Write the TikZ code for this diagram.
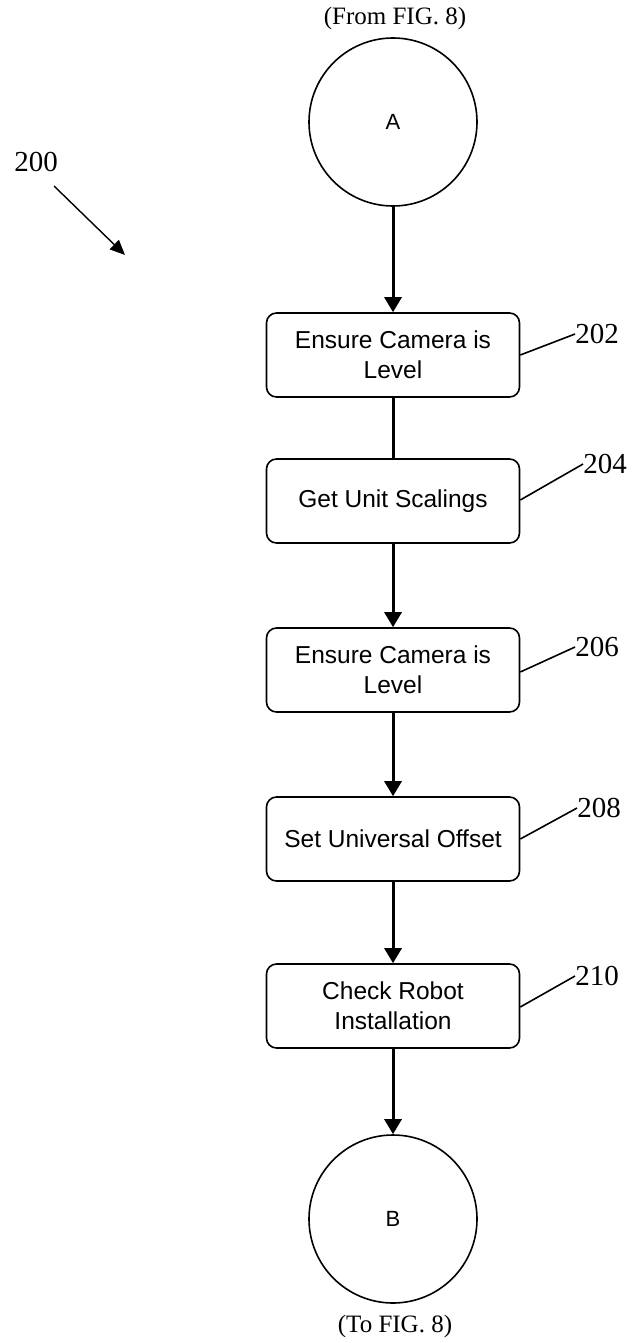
\documentclass[tikz,border=0pt]{standalone}
\usepackage{fontspec}
\setmainfont{Liberation Serif}
\newfontfamily\boxfont{Liberation Sans}
\usetikzlibrary{arrows.meta}
\tikzset{
  stepbox/.style={draw, line width=1.6pt, rounded corners=10pt, minimum width=253pt, minimum height=84pt, align=center, font=\boxfont\fontsize{24.5}{30}\selectfont, inner sep=2pt},
  conn/.style={draw, line width=3pt, -{Triangle[width=17pt,length=15pt]}},
  plain/.style={draw, line width=3pt},
  circ/.style={draw, circle, line width=1.6pt, minimum size=168pt, inner sep=0pt, font=\boxfont\fontsize{22}{26}\selectfont},
  lbl/.style={font=\fontsize{25}{28}\selectfont, inner sep=0pt},
  num/.style={font=\fontsize{29}{30}\selectfont, inner sep=0pt},
  leader/.style={draw, line width=1.6pt}
}
\begin{document}
\begin{tikzpicture}[x=1pt,y=-1pt]
\useasboundingbox (0,0) rectangle (632,1343);
\node[lbl] (from) at (395,18) {(From FIG. 8)};
\node[circ] (A) at (393,122) {A};
\node[stepbox] (s202) at (393,355) {Ensure Camera is\\Level};
\node[stepbox] (s204) at (393,501) {Get Unit Scalings};
\node[stepbox] (s206) at (393,670) {Ensure Camera is\\Level};
\node[stepbox] (s208) at (393,839) {Set Universal Offset};
\node[stepbox] (s210) at (393,1006) {Check Robot\\Installation};
\node[circ] (B) at (393,1219) {B};
\node[lbl] (to) at (395,1326) {(To FIG. 8)};

\draw[conn] (A) -- (s202);
\draw[plain] (s202) -- (s204);
\draw[conn] (s204) -- (s206);
\draw[conn] (s206) -- (s208);
\draw[conn] (s208) -- (s210);
\draw[conn] (s210) -- (B);

\node[num] (l202) at (597,334) {202};
\node[num] (l204) at (605,464) {204};
\node[num] (l206) at (597,647) {206};
\node[num] (l208) at (599,808) {208};
\node[num] (l210) at (597,976) {210};
\draw[leader] (s202.east) -- (l202.west);
\draw[leader] ([yshift=1pt]s204.east) -- (l204.west);
\draw[leader] ([yshift=-2pt]s206.east) -- (l206.west);
\draw[leader] (s208.east) -- (l208.west);
\draw[leader] ([yshift=-1pt]s210.east) -- (l210.west);

\node[num] (l200) at (36,162) {200};
\coordinate (p200) at (125,255);
\draw[line width=1.4pt, -{Triangle[width=13pt,length=15pt]}] (54,186) -- (p200);
\end{tikzpicture}
\end{document}
